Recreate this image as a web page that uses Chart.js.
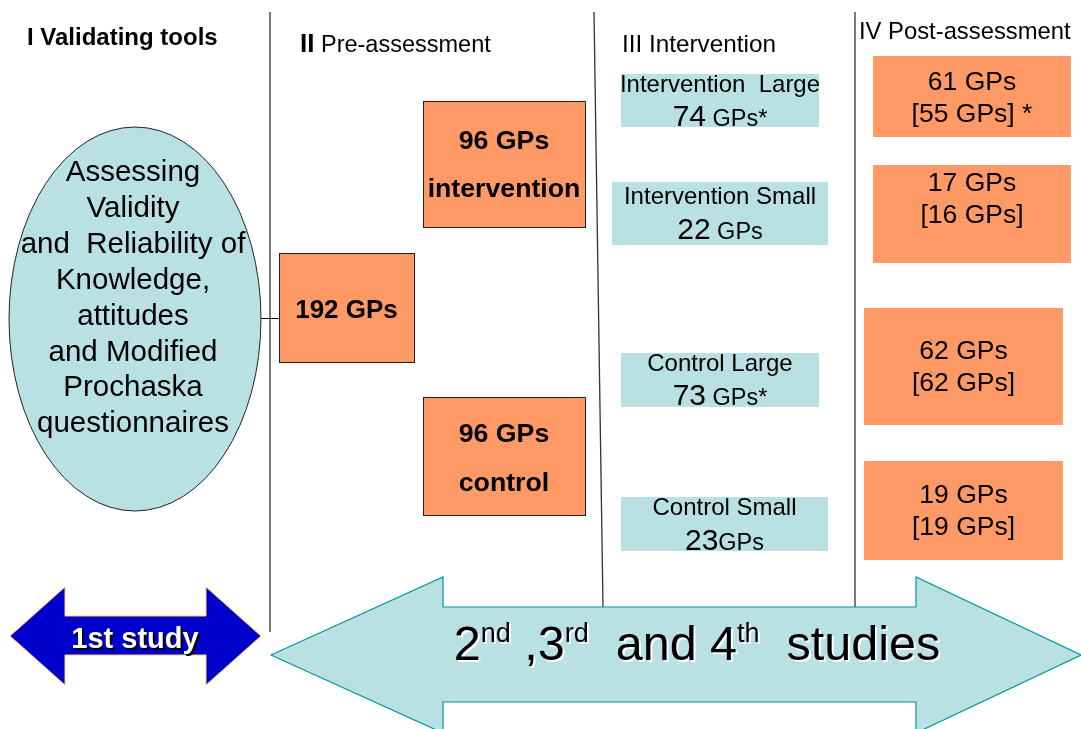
<!DOCTYPE html>
<html>
<head>
<meta charset="utf-8">
<script src="https://cdn.jsdelivr.net/npm/chart.js@4.4.1/dist/chart.umd.min.js"></script>
<style>
  html, body { margin: 0; padding: 0; background: #fff; }
  canvas { display: block; }
</style>
</head>
<body>
<canvas id="flow" width="1081" height="729"></canvas>
<script>
// --- content of the diagram ---
const stageNumbers = ['I', 'II', 'III', 'IV'];
const stageNames = ['Validating tools', 'Pre-assessment', 'Intervention', 'Post-assessment'];
const toolLines = ['Assessing', 'Validity', 'and  Reliability of', 'Knowledge,', 'attitudes',
                   'and Modified', 'Prochaska', 'questionnaires'];
const totalGPs = 192;
const preGroups = ['intervention', 'control'];
const preCounts = [96, 96];
const armGroups = ['Intervention  Large', 'Intervention Small', 'Control Large', 'Control Small'];
const armCounts = [74, 22, 73, 23];
const armUnits = [' GPs*', ' GPs', ' GPs*', 'GPs'];
const postCounts = [61, 17, 62, 19];
const postAnalysed = [55, 16, 62, 19];
const postNotes = [' *', '', '', ''];
const studyLabels = ['1st study', ['2', 'nd', ' ,3', 'rd', '  and 4', 'th', '  studies']];

// --- layout (diagram units = pixels of the 1081x729 page, y downwards) ---
const FONT = '"Liberation Sans", Arial, sans-serif';
const ORANGE = '#FF9966';
const PALE = '#B9E0E3';
const separators = [[270, 12, 270, 632], [594, 12, 603, 607], [855, 12, 855, 607]];
const titlePos = [[27, 45], [300, 52], [622, 52], [859, 39]];
const ellipse = { cx: 135, cy: 319, rx: 126, ry: 192, textX: 133, firstBase: 181, step: 35.9 };
const totalBox = [279, 253, 414, 362];
const preBoxes = [[423, 101, 585, 227], [423, 397, 585, 515]];
const preBase = [[149, 197], [442, 491]];
const armBoxes = [[621, 74, 819, 127], [612, 182, 828, 245], [621, 353, 819, 407], [621, 497, 828, 551]];
const armBase = [[92, 126], [204, 239], [371, 405], [515, 550]];
const postBoxes = [[873, 56, 1071, 137], [873, 165, 1071, 263], [864, 308, 1063, 425], [864, 461, 1063, 560]];
const postBase = [[90, 122], [191, 223], [359, 391], [503, 535]];

const f = (size, bold) => (bold ? 'bold ' : '') + size + 'px ' + FONT;

function drawRuns(ctx, runs, x, base, align) {
  let total = 0;
  runs.forEach(r => { ctx.font = r.font; r.w = ctx.measureText(r.t).width; total += r.w; });
  let cx = align === 'left' ? x : x - total / 2;
  ctx.textAlign = 'left';
  ctx.textBaseline = 'alphabetic';
  runs.forEach(r => {
    ctx.font = r.font;
    ctx.fillText(r.t, cx, base - (r.rise || 0));
    cx += r.w;
  });
}

const diagram = {
  id: 'diagram',
  afterDatasetsDraw(chart) {
    const ctx = chart.ctx;
    const sx = chart.scales.x, sy = chart.scales.y;
    const px = v => sx.getPixelForValue(v);
    const py = v => sy.getPixelForValue(v);
    ctx.save();

    const rect = (b, fill, stroke) => {
      const x = px(b[0]), y = py(b[1]), w = px(b[2]) - x, h = py(b[3]) - y;
      ctx.fillStyle = fill;
      ctx.fillRect(x, y, w, h);
      if (stroke) { ctx.strokeStyle = stroke; ctx.lineWidth = 1; ctx.strokeRect(x + 0.5, y + 0.5, w, h); }
    };
    const poly = (pts, fill, stroke, lw) => {
      ctx.beginPath();
      pts.forEach((p, i) => i ? ctx.lineTo(px(p[0]), py(p[1])) : ctx.moveTo(px(p[0]), py(p[1])));
      ctx.closePath();
      ctx.fillStyle = fill; ctx.fill();
      ctx.strokeStyle = stroke; ctx.lineWidth = lw; ctx.stroke();
    };

    // stage titles
    ctx.fillStyle = '#000';
    const titleRuns = [
      [{ t: stageNumbers[0] + ' ' + stageNames[0], font: f(24, true) }],
      [{ t: stageNumbers[1], font: f(26, true) }, { t: ' ' + stageNames[1], font: f(23.5) }],
      [{ t: stageNumbers[2] + ' ' + stageNames[2], font: f(24.3) }],
      [{ t: stageNumbers[3] + ' ' + stageNames[3], font: f(23.8) }]
    ];
    titleRuns.forEach((r, i) => drawRuns(ctx, r, px(titlePos[i][0]), py(titlePos[i][1]), 'left'));

    // connector ellipse -> 192 box
    ctx.strokeStyle = '#000'; ctx.lineWidth = 1;
    ctx.beginPath();
    ctx.moveTo(px(ellipse.cx + ellipse.rx), py(318.5));
    ctx.lineTo(px(totalBox[0]), py(318.5));
    ctx.stroke();

    // ellipse
    ctx.beginPath();
    ctx.ellipse(px(ellipse.cx), py(ellipse.cy), ellipse.rx, ellipse.ry, 0, 0, Math.PI * 2);
    ctx.fillStyle = PALE; ctx.fill();
    ctx.strokeStyle = '#222'; ctx.lineWidth = 1; ctx.stroke();
    ctx.fillStyle = '#000';
    toolLines.forEach((t, i) => drawRuns(ctx, [{ t, font: f(29.5) }], px(ellipse.textX), py(ellipse.firstBase + i * ellipse.step)));

    // pre-assessment boxes
    rect(totalBox, ORANGE, '#222');
    ctx.fillStyle = '#000';
    drawRuns(ctx, [{ t: totalGPs + ' GPs', font: f(26, true) }], px((totalBox[0] + totalBox[2]) / 2), py(318));
    preBoxes.forEach((b, i) => {
      rect(b, ORANGE, '#222');
      ctx.fillStyle = '#000';
      const cx = px((b[0] + b[2]) / 2);
      drawRuns(ctx, [{ t: preCounts[i] + ' GPs', font: f(26.7, true) }], cx, py(preBase[i][0]));
      drawRuns(ctx, [{ t: preGroups[i], font: f(26.7, true) }], cx, py(preBase[i][1]));
    });

    // intervention arms
    armBoxes.forEach((b, i) => {
      rect(b, PALE);
      ctx.fillStyle = '#000';
      const cx = px((b[0] + b[2]) / 2);
      drawRuns(ctx, [{ t: armGroups[i], font: f(24) }], cx, py(armBase[i][0]));
      drawRuns(ctx, [{ t: String(armCounts[i]), font: f(30) }, { t: armUnits[i], font: f(23.5) }], cx, py(armBase[i][1]));
    });

    // post-assessment
    postBoxes.forEach((b, i) => {
      rect(b, ORANGE);
      ctx.fillStyle = '#000';
      const cx = px((b[0] + b[2]) / 2);
      drawRuns(ctx, [{ t: postCounts[i] + ' GPs', font: f(26.5) }], cx, py(postBase[i][0]));
      drawRuns(ctx, [{ t: '[' + postAnalysed[i] + ' GPs]' + postNotes[i], font: f(26.5) }], cx, py(postBase[i][1]));
    });

    // 1st study double arrow
    poly([[10, 636], [65, 587], [65, 616], [206, 616], [206, 587], [261, 636],
          [206, 685], [206, 655], [65, 655], [65, 685]], '#0000CC', '#FFCC66', 1);
    ctx.save();
    ctx.shadowColor = '#000'; ctx.shadowOffsetX = 2; ctx.shadowOffsetY = 2; ctx.shadowBlur = 0;
    ctx.fillStyle = '#fff';
    drawRuns(ctx, [{ t: studyLabels[0], font: f(29, true) }], px(135), py(648));
    ctx.restore();

    // 2nd-4th studies double arrow
    poly([[271, 655], [443, 577], [443, 607], [916, 607], [916, 577], [1081, 655],
          [916, 733], [916, 702], [443, 702], [443, 733]], PALE, '#009999', 1.2);
    ctx.save();
    ctx.shadowColor = 'rgba(255,255,255,0.95)'; ctx.shadowOffsetX = 2; ctx.shadowOffsetY = 2; ctx.shadowBlur = 0;
    ctx.fillStyle = '#000';
    const big = studyLabels[1].map((t, i) => i % 2 ? { t, font: f(27), rise: 18 } : { t, font: f(48.5) });
    drawRuns(ctx, big, px(697), py(660));
    ctx.restore();

    ctx.restore();
  }
};

new Chart(document.getElementById('flow'), {
  type: 'scatter',
  data: {
    datasets: separators.map(s => ({
      data: [{ x: s[0], y: s[1] }, { x: s[2], y: s[3] }],
      showLine: true,
      borderColor: '#333',
      borderWidth: 1.3,
      pointRadius: 0
    }))
  },
  options: {
    responsive: false,
    animation: false,
    layout: { padding: 0 },
    plugins: { legend: { display: false }, tooltip: { enabled: false } },
    scales: {
      x: { type: 'linear', min: 0, max: 1081, display: false },
      y: { type: 'linear', min: 0, max: 729, reverse: true, display: false }
    }
  },
  plugins: [diagram]
});
</script>
</body>
</html>
